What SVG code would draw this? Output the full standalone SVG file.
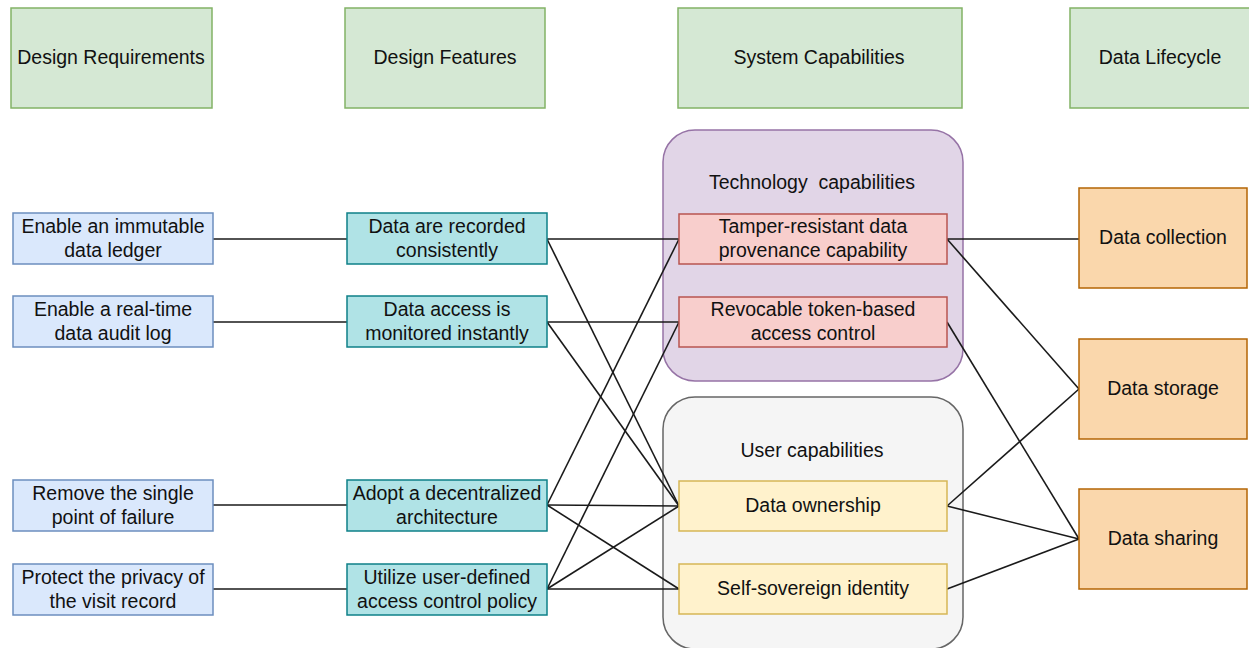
<svg xmlns="http://www.w3.org/2000/svg" width="1249" height="648" viewBox="0 0 1249 648">
<style>
text{font-family:"Liberation Sans",Arial,sans-serif;font-size:19.5px;fill:#111;text-anchor:middle;white-space:pre}
.hdr{fill:#d5e8d4;stroke:#82b366;stroke-width:1.5}
.req{fill:#dae8fc;stroke:#6c8ebf;stroke-width:1.5}
.feat{fill:#b0e3e6;stroke:#0e8088;stroke-width:1.5}
.tech{fill:#e1d5e7;stroke:#9673a6;stroke-width:1.5}
.red{fill:#f8cecc;stroke:#b85450;stroke-width:1.5}
.user{fill:#f5f5f5;stroke:#666666;stroke-width:1.5}
.yel{fill:#fff2cc;stroke:#d6b656;stroke-width:1.5}
.org{fill:#fad7ac;stroke:#b46504;stroke-width:1.5}
.edges line{stroke:#1a1a1a;stroke-width:1.6}
</style>
<rect width="1249" height="648" fill="#ffffff"/>
<g id="h-req"><rect class="hdr" x="11" y="8" width="201" height="100"/><text x="111" y="64">Design Requirements</text></g>
<g id="h-feat"><rect class="hdr" x="345" y="8" width="200" height="100"/><text x="445" y="64">Design Features</text></g>
<g id="h-sys"><rect class="hdr" x="678" y="8" width="284" height="100"/><text x="819" y="64">System Capabilities</text></g>
<g id="h-life"><rect class="hdr" x="1070" y="8" width="182" height="100"/><text x="1160" y="64">Data Lifecycle</text></g>

<g id="tech-group"><rect class="tech" x="663" y="130" width="300" height="251" rx="32"/><text x="812" y="189">Technology  capabilities</text></g>
<g id="user-group"><rect class="user" x="663" y="397" width="300" height="252" rx="32"/><text x="812" y="457">User capabilities</text></g>

<g class="edges" id="connectors">
<line x1="213" y1="239" x2="347" y2="239"/>
<line x1="213" y1="322" x2="347" y2="322"/>
<line x1="213" y1="505" x2="347" y2="505"/>
<line x1="213" y1="589" x2="347" y2="589"/>
<line x1="547" y1="239" x2="679" y2="239"/>
<line x1="547" y1="239" x2="679" y2="506"/>
<line x1="547" y1="322" x2="679" y2="322"/>
<line x1="547" y1="322" x2="679" y2="506"/>
<line x1="547" y1="505" x2="679" y2="239"/>
<line x1="547" y1="505" x2="679" y2="506"/>
<line x1="547" y1="505" x2="679" y2="589"/>
<line x1="547" y1="589" x2="679" y2="322"/>
<line x1="547" y1="589" x2="679" y2="506"/>
<line x1="547" y1="589" x2="679" y2="589"/>
<line x1="947" y1="239" x2="1079" y2="239"/>
<line x1="947" y1="239" x2="1079" y2="389"/>
<line x1="947" y1="322" x2="1079" y2="539"/>
<line x1="947" y1="506" x2="1079" y2="389"/>
<line x1="947" y1="506" x2="1079" y2="539"/>
<line x1="947" y1="589" x2="1079" y2="539"/>
</g>

<g id="req1"><rect class="req" x="13" y="213" width="200" height="51"/><text x="113" y="233">Enable an immutable</text><text x="113" y="257">data ledger</text></g>
<g id="req2"><rect class="req" x="13" y="296" width="200" height="51"/><text x="113" y="316">Enable a real-time</text><text x="113" y="340">data audit log</text></g>
<g id="req3"><rect class="req" x="13" y="480" width="200" height="51"/><text x="113" y="500">Remove the single</text><text x="113" y="524">point of failure</text></g>
<g id="req4"><rect class="req" x="13" y="564" width="200" height="51"/><text x="113" y="584">Protect the privacy of</text><text x="113" y="608">the visit record</text></g>

<g id="feat1"><rect class="feat" x="347" y="213" width="200" height="51"/><text x="447" y="233">Data are recorded</text><text x="447" y="257">consistently</text></g>
<g id="feat2"><rect class="feat" x="347" y="296" width="200" height="51"/><text x="447" y="316">Data access is</text><text x="447" y="340">monitored instantly</text></g>
<g id="feat3"><rect class="feat" x="347" y="480" width="200" height="51"/><text x="447" y="500">Adopt a decentralized</text><text x="447" y="524">architecture</text></g>
<g id="feat4"><rect class="feat" x="347" y="564" width="200" height="51"/><text x="447" y="584">Utilize user-defined</text><text x="447" y="608">access control policy</text></g>

<g id="tamper"><rect class="red" x="679" y="214" width="268" height="50"/><text x="813" y="233">Tamper-resistant data</text><text x="813" y="257">provenance capability</text></g>
<g id="revocable"><rect class="red" x="679" y="297" width="268" height="50"/><text x="813" y="316">Revocable token-based</text><text x="813" y="340">access control</text></g>
<g id="ownership"><rect class="yel" x="679" y="481" width="268" height="50"/><text x="813" y="512">Data ownership</text></g>
<g id="ssi"><rect class="yel" x="679" y="564" width="268" height="50"/><text x="813" y="595">Self-sovereign identity</text></g>

<g id="collection"><rect class="org" x="1079" y="188" width="168" height="100"/><text x="1163" y="244">Data collection</text></g>
<g id="storage"><rect class="org" x="1079" y="339" width="168" height="100"/><text x="1163" y="395">Data storage</text></g>
<g id="sharing"><rect class="org" x="1079" y="489" width="168" height="100"/><text x="1163" y="545">Data sharing</text></g>
</svg>
